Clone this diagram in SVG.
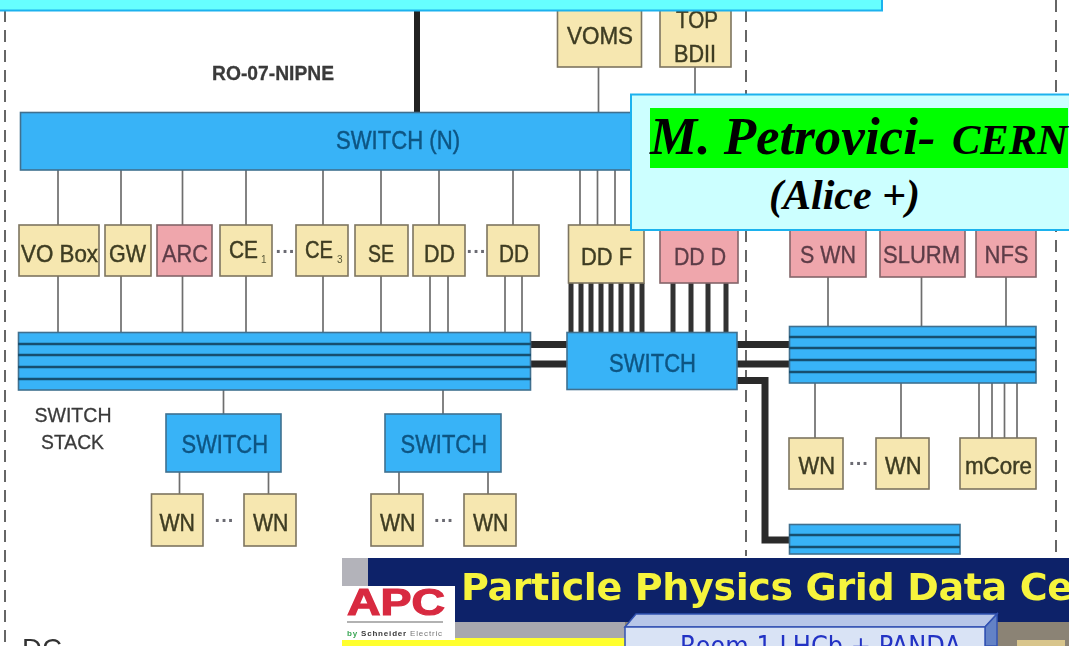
<svg xmlns="http://www.w3.org/2000/svg" width="1069" height="646" viewBox="0 0 1069 646">
<defs>
<style>
text{font-family:"Liberation Sans",Arial,sans-serif}
.bg{fill:#fff}
.cream{fill:#f6e7b0;stroke:#7d7560;stroke-width:1.6}
.pink{fill:#efa6ac;stroke:#84656a;stroke-width:1.6}
.blue{fill:#38b3f7;stroke:#40708f;stroke-width:1.6}
.t{font-size:24px;fill:#3e3c22;stroke:#3e3c22;stroke-width:.45}
.tp{font-size:24px;fill:#5d3c47;stroke:#5d3c47;stroke-width:.35}
.tb{font-size:25px;fill:#0f5583;stroke:#0f5583;stroke-width:.45}
.lab{font-size:21px;fill:#3a3a3a;stroke:#3a3a3a;stroke-width:.3}
.sub{font-size:10px;fill:#5a5a3a}
.dots{font-size:20px;font-weight:bold;fill:#6a6a72;text-anchor:middle}
.thin{stroke:#6e6e6e;stroke-width:1.7;fill:none}
.med{stroke:#333;stroke-width:5;fill:none}
.thick{stroke:#2a2a2a;stroke-width:7;fill:none}
.dash{stroke:#666;stroke-width:2;stroke-dasharray:12 8;fill:none}
.sl{stroke:#14506f;stroke-width:2.500;fill:none}
.serif{font-family:"Liberation Serif","Times New Roman",serif;font-weight:bold;font-style:italic;fill:#000}
</style>
<filter id="soft" x="-2%" y="-2%" width="104%" height="104%"><feGaussianBlur stdDeviation="0.6"/></filter>
</defs>
<rect class="bg" x="0" y="0" width="1069" height="646"/>
<g filter="url(#soft)">
<g id="connectors">
<path class="dash" d="M5 10V646M746 10V556M1056 0V556"/>
<path d="M417 10V112" stroke="#222" stroke-width="6" fill="none"/>
<path class="thin" d="M58 170V225M121 170V225M182.500 170V225M246 170V225M323 170V225M381 170V225M439 170V225M513 170V225M580 170V225M597.500 170V225M615 170V225M598.500 67V112M695 67V100"/>
<path class="thin" d="M58 276V332M121 276V332M182.500 276V332M246 276V332M323 276V332M381 276V332M430 276V332M448 276V332M505 276V332M522 276V332"/>
<path class="med" d="M571 283V332M581 283V332M591 283V332M601 283V332M611 283V332M621 283V332M632 283V332M642 283V332M673 283V332M691 283V332M708 283V332M726 283V332"/>
<path class="thick" d="M530 344.500H567M530 364H567M737 344.500H789M737 364H789M737 380.500H765V540H789"/>
<path class="thin" d="M223.500 390V414M443 390V414M179.500 472V494M268.500 472V494M399 472V494M488 472V494"/>
<path class="thin" d="M828 277V326M921.500 277V326M1006 277V326M815 383V438M901 383V438M979 383V438M992 383V438M1004.500 383V438M1017 383V438"/>
</g>
<g id="switch-n"><rect class="blue" x="20.500" y="112.500" width="625" height="57.500"/><text class="tb" x="336" y="149" textLength="124" lengthAdjust="spacingAndGlyphs">SWITCH (N)</text></g>
<g id="voms"><rect class="cream" x="557.500" y="0" width="84" height="67"/><text class="t" x="567" y="44" textLength="66" lengthAdjust="spacingAndGlyphs">VOMS</text></g>
<g id="top-bdii"><rect class="cream" x="660" y="0" width="71" height="67"/><text class="t" x="676" y="28" textLength="42" lengthAdjust="spacingAndGlyphs">TOP</text><text class="t" x="674" y="62" textLength="42" lengthAdjust="spacingAndGlyphs">BDII</text></g>
<g id="ro-label"><text class="lab" x="212" y="80" textLength="122" lengthAdjust="spacingAndGlyphs" font-weight="bold">RO-07-NIPNE</text></g>
<g id="vo-box"><rect class="cream" x="19" y="225" width="80" height="51"/><text class="t" x="21" y="262" textLength="77" lengthAdjust="spacingAndGlyphs">VO Box</text></g>
<g id="gw"><rect class="cream" x="105" y="225" width="46" height="51"/><text class="t" x="109" y="262" textLength="37" lengthAdjust="spacingAndGlyphs">GW</text></g>
<g id="arc"><rect class="pink" x="157" y="225" width="55" height="51"/><text class="tp" x="162" y="262" textLength="46" lengthAdjust="spacingAndGlyphs">ARC</text></g>
<g id="ce1"><rect class="cream" x="220" y="225" width="52" height="51"/><text class="t" x="229" y="258" textLength="29" lengthAdjust="spacingAndGlyphs">CE</text><text class="sub" x="261" y="263">1</text></g>
<text class="dots" x="285.500" y="258">···</text>
<g id="ce3"><rect class="cream" x="296" y="225" width="52" height="51"/><text class="t" x="305" y="258" textLength="28" lengthAdjust="spacingAndGlyphs">CE</text><text class="sub" x="337" y="263">3</text></g>
<g id="se"><rect class="cream" x="355" y="225" width="53" height="51"/><text class="t" x="368" y="262" textLength="26" lengthAdjust="spacingAndGlyphs">SE</text></g>
<g id="dd1"><rect class="cream" x="413" y="225" width="52" height="51"/><text class="t" x="424" y="262" textLength="31" lengthAdjust="spacingAndGlyphs">DD</text></g>
<text class="dots" x="476.500" y="258">···</text>
<g id="dd2"><rect class="cream" x="487" y="225" width="52" height="51"/><text class="t" x="499" y="262" textLength="30" lengthAdjust="spacingAndGlyphs">DD</text></g>
<g id="dd-f"><rect class="cream" x="568.500" y="225" width="75.500" height="58"/><text class="t" x="581" y="265" textLength="51" lengthAdjust="spacingAndGlyphs">DD F</text></g>
<g id="dd-d"><rect class="pink" x="660" y="225" width="78" height="58"/><text class="tp" x="674" y="265" textLength="52" lengthAdjust="spacingAndGlyphs">DD D</text></g>
<g id="s-wn"><rect class="pink" x="790" y="225" width="76" height="52"/><text class="tp" x="800" y="263" textLength="56" lengthAdjust="spacingAndGlyphs">S WN</text></g>
<g id="slurm"><rect class="pink" x="880" y="225" width="85" height="52"/><text class="tp" x="883" y="263" textLength="77" lengthAdjust="spacingAndGlyphs">SLURM</text></g>
<g id="nfs"><rect class="pink" x="976" y="225" width="60" height="52"/><text class="tp" x="984.500" y="263" textLength="44" lengthAdjust="spacingAndGlyphs">NFS</text></g>
<g id="stack-left"><rect class="blue" x="18.500" y="332.500" width="512" height="57.500"/><path class="sl" d="M18 344H531M18 355H531M18 367H531M18 379H531"/></g>
<g id="switch-c"><rect class="blue" x="567" y="332.500" width="170" height="57"/><text class="tb" x="609" y="372" textLength="87" lengthAdjust="spacingAndGlyphs">SWITCH</text></g>
<g id="stack-right"><rect class="blue" x="789.500" y="326.500" width="246.500" height="56.500"/><path class="sl" d="M789 337H1036M789 348H1036M789 360H1036M789 372H1036"/></g>
<g id="stack-label"><text class="lab" x="34.500" y="422" textLength="77" lengthAdjust="spacingAndGlyphs">SWITCH</text><text class="lab" x="41" y="449" textLength="63" lengthAdjust="spacingAndGlyphs">STACK</text></g>
<g id="switch-a"><rect class="blue" x="166" y="414" width="115" height="58"/><text class="tb" x="181.500" y="453" textLength="86.500" lengthAdjust="spacingAndGlyphs">SWITCH</text></g>
<g id="switch-b"><rect class="blue" x="385" y="414" width="116" height="58"/><text class="tb" x="400.500" y="453" textLength="86.500" lengthAdjust="spacingAndGlyphs">SWITCH</text></g>
<g id="wn-1"><rect class="cream" x="151.500" y="494" width="51.500" height="52"/><text class="t" x="159.500" y="531" textLength="35.500" lengthAdjust="spacingAndGlyphs">WN</text></g>
<text class="dots" x="224.500" y="527">···</text>
<g id="wn-2"><rect class="cream" x="244" y="494" width="52" height="52"/><text class="t" x="253" y="531" textLength="35.500" lengthAdjust="spacingAndGlyphs">WN</text></g>
<g id="wn-3"><rect class="cream" x="371" y="494" width="52" height="52"/><text class="t" x="380" y="531" textLength="35.500" lengthAdjust="spacingAndGlyphs">WN</text></g>
<text class="dots" x="444" y="527">···</text>
<g id="wn-4"><rect class="cream" x="464" y="494" width="52" height="52"/><text class="t" x="473" y="531" textLength="35.500" lengthAdjust="spacingAndGlyphs">WN</text></g>
<g id="wn-5"><rect class="cream" x="789" y="438" width="54" height="51"/><text class="t" x="798.500" y="474" textLength="36.500" lengthAdjust="spacingAndGlyphs">WN</text></g>
<text class="dots" x="859" y="470">···</text>
<g id="wn-6"><rect class="cream" x="876" y="438" width="53" height="51"/><text class="t" x="885" y="474" textLength="36.500" lengthAdjust="spacingAndGlyphs">WN</text></g>
<g id="mcore"><rect class="cream" x="960" y="438" width="76" height="51"/><text class="t" x="965" y="474" textLength="67" lengthAdjust="spacingAndGlyphs">mCore</text></g>
<g id="stack-bottom"><rect class="blue" x="789.500" y="524.500" width="170.500" height="29.500"/><path class="sl" d="M789 535H960M789 547H960"/></g>
<text x="22" y="658" font-size="28" fill="#333" textLength="40" lengthAdjust="spacingAndGlyphs">DC</text>
</g>
<g id="banner-top"><rect x="-3" y="-4" width="885" height="14.500" fill="#66ffff" stroke="#1cb2ee" stroke-width="2"/></g>
<g id="callout">
<rect x="631" y="94.500" width="442" height="135.500" fill="#ccffff" stroke="#1cb2ee" stroke-width="2"/>
<rect x="650" y="108" width="418" height="60" fill="#00ff00"/>
<text class="serif" x="650" y="154" font-size="53">M. Petrovici-</text>
<text class="serif" x="952" y="154" font-size="42.500">CERN</text>
<text class="serif" x="769" y="209" font-size="42">(Alice +)</text>
</g>
<g id="lower-slide" filter="url(#soft)">
<rect x="342" y="558" width="727" height="88" fill="#8b8374"/>
<rect x="342" y="558" width="27" height="30" fill="#b3b3ba"/>
<rect x="368" y="558" width="701" height="64" fill="#0a2169"/>
<rect x="455" y="622" width="170" height="17" fill="#a8a8ae"/>
<rect x="342" y="638" width="283" height="8" fill="#ffff2e"/>
<rect x="1017" y="640" width="48" height="6" fill="#d8c58c"/>
<text x="461" y="600" font-size="38" font-weight="bold" fill="#f6f43c" style="font-family:'DejaVu Sans',sans-serif" textLength="612" lengthAdjust="spacing">Particle Physics Grid Data Ce</text>
<g id="apc-logo">
<rect x="342" y="586" width="113" height="54" fill="#fff"/>
<text x="347" y="615" font-size="37" font-weight="bold" fill="#d82a40" stroke="#d82a40" stroke-width="1.200" textLength="98" lengthAdjust="spacingAndGlyphs">APC</text>
<path d="M347 622H443" stroke="#999" stroke-width="1.500"/>
<text x="347" y="636" font-size="8" font-weight="bold" fill="#3a3a3a" textLength="95" lengthAdjust="spacing"><tspan fill="#3aa655">by</tspan> Schneider <tspan font-weight="normal" fill="#777">Electric</tspan></text>
</g>
<g id="room-box">
<polygon points="625,627 636,614 997,614 985,627" fill="#b7c6e8" stroke="#3353b3" stroke-width="1.500"/>
<polygon points="985,627 997,614 997,646 985,646" fill="#6482c6" stroke="#3353b3" stroke-width="1.500"/>
<rect x="625" y="627" width="360" height="25" fill="#d9e3f5" stroke="#3353b3" stroke-width="1.500"/>
<text x="680" y="655" font-size="26" fill="#2030c4" style="font-family:'DejaVu Sans',sans-serif" textLength="281" lengthAdjust="spacingAndGlyphs">Room 1 LHCb + PANDA</text>
</g>
</g>
</svg>
